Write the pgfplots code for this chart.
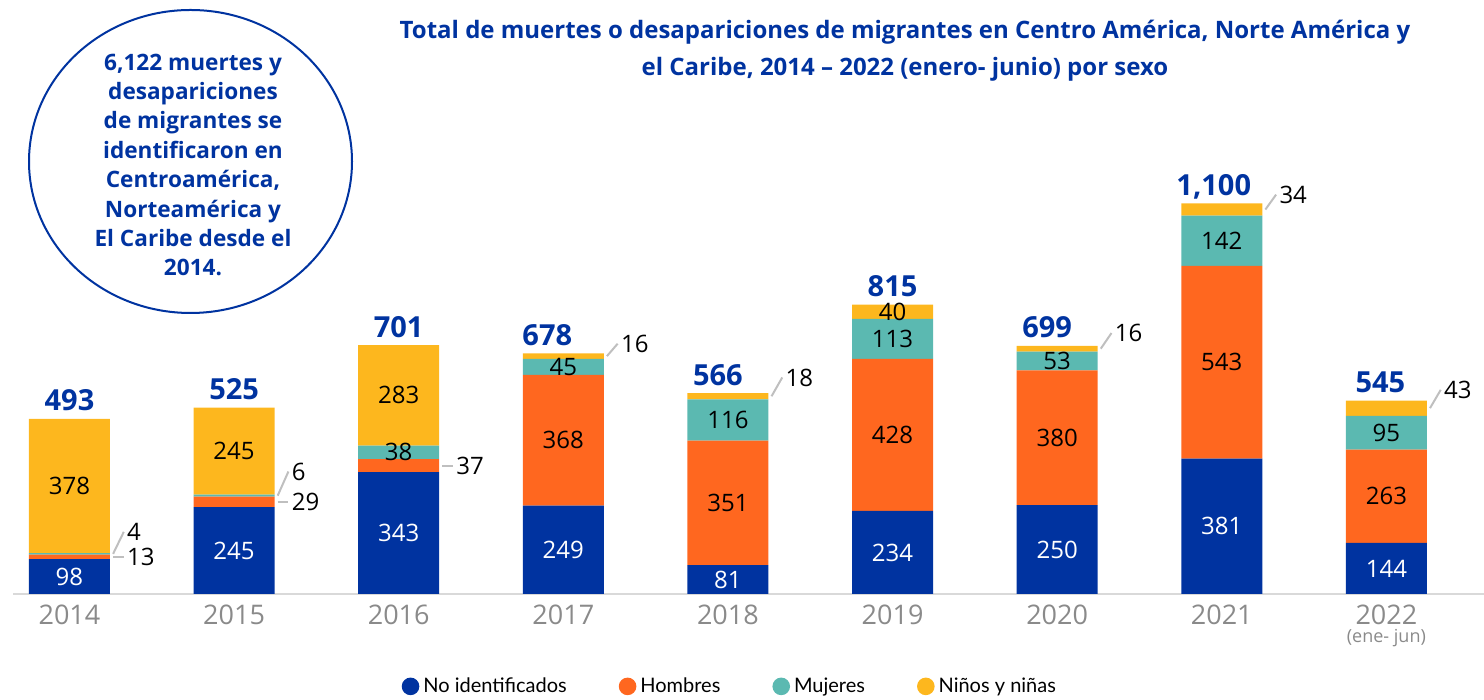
\documentclass[border=0pt]{standalone}
\usepackage{fontspec}
\setmainfont{Lato}
\newfontfamily\numfont{Open Sans}
\usepackage{pgfplots}
\pgfplotsset{compat=1.18}
\definecolor{cblue}{HTML}{0033A0}
\definecolor{corange}{HTML}{FF671F}
\definecolor{cteal}{HTML}{5BB9B1}
\definecolor{cyellow}{HTML}{FDB71E}
\definecolor{cgray}{HTML}{8A8A8A}
\definecolor{lgray}{HTML}{BFBFBF}
\definecolor{axgray}{HTML}{D9D9D9}
\newcommand{\inl}[4]{\node[font=\numfont\fontsize{12}{13}\selectfont, text=#4, inner sep=0pt] at (axis cs:#1,#2) {#3};}
\newcommand{\outl}[4]{\draw[lgray, line width=1pt] (axis cs:#1+0.265,#2) -- (axis cs:#1+0.33,#3);
  \node[font=\numfont\fontsize{12}{13}\selectfont, anchor=west, inner sep=1.5pt] at (axis cs:#1+0.33,#3) {#4};}
\newcommand{\tot}[4]{\node[font=\numfont\bfseries\fontsize{14.5}{16}\selectfont, text=cblue, anchor=base, yshift=4pt, xshift=#4] at (axis cs:#1,#2) {#3};}
\pgfplotsset{common/.style={
 at={(6.5pt,53pt)}, anchor=south west,
 width=735.5pt, height=266.25pt, scale only axis,
 xmin=-0.343, xmax=8.593, ymin=0, ymax=1500, clip=false}}
\begin{document}
\begin{tikzpicture}
\useasboundingbox (0,0) rectangle (742pt,350pt);
\begin{axis}[
 common,
 ybar stacked, bar width=40.5pt,
 axis x line=bottom, axis y line=none,
 x axis line style={-, draw=axgray, line width=1pt},
 xtick={0,1,2,3,4,5,6,7,8},
 xticklabels={2014,2015,2016,2017,2018,2019,2020,2021,{2022\\[-5pt]{\fontsize{9}{10}\selectfont (ene- jun)}}},
 major tick length=0pt,
 xtick style={draw=none},
 xticklabel style={font=\numfont\fontsize{13.5}{14}\selectfont, text=cgray, align=center, yshift=-2pt},
 legend columns=4,
 legend style={at={(rel axis cs:0.488,-0.1735)}, anchor=center, draw=none, fill=none, font=\fontsize{10}{11}\selectfont, /tikz/every even column/.append style={column sep=24pt}},
 legend image code/.code={\fill[#1] (-0.2em,0pt) circle (4.4pt);},
]
\addplot+[fill=cblue, draw=none] coordinates {(0,98) (1,245) (2,343) (3,249) (4,81) (5,234) (6,250) (7,381) (8,144)};
\addplot+[fill=corange, draw=none] coordinates {(0,13) (1,29) (2,37) (3,368) (4,351) (5,428) (6,380) (7,543) (8,263)};
\addplot+[fill=cteal, draw=none] coordinates {(0,4) (1,6) (2,38) (3,45) (4,116) (5,113) (6,53) (7,142) (8,95)};
\addplot+[fill=cyellow, draw=none] coordinates {(0,378) (1,245) (2,283) (3,16) (4,18) (5,40) (6,16) (7,34) (8,43)};
\legend{No identificados, Hombres, Mujeres, Niños y niñas}
\end{axis}
\begin{axis}[common, hide axis]
% inside labels
\inl{0}{49}{98}{white}
\inl{0}{304}{378}{black}
\inl{1}{122.5}{245}{white}
\inl{1}{402.5}{245}{black}
\inl{2}{171.5}{343}{white}
\inl{2}{399}{38}{black}
\inl{2}{559.5}{283}{black}
\inl{3}{124.5}{249}{white}
\inl{3}{433}{368}{black}
\inl{3}{639.5}{45}{black}
\inl{4}{40.5}{81}{white}
\inl{4}{256.5}{351}{black}
\inl{4}{490}{116}{black}
\inl{5}{117}{234}{white}
\inl{5}{448}{428}{black}
\inl{5}{718.5}{113}{black}
\inl{5}{795}{40}{black}
\inl{6}{125}{250}{white}
\inl{6}{440}{380}{black}
\inl{6}{656.5}{53}{black}
\inl{7}{190.5}{381}{white}
\inl{7}{652.5}{543}{black}
\inl{7}{995}{142}{black}
\inl{8}{72}{144}{white}
\inl{8}{275.5}{263}{black}
\inl{8}{454.5}{95}{black}
% outside labels
\outl{0}{104.5}{104.5}{13}
\outl{0}{113}{175}{4}
\outl{1}{259.5}{259.5}{29}
\outl{1}{277}{345}{6}
\outl{2}{361.5}{361.5}{37}
\outl{3}{670}{705}{16}
\outl{4}{557}{610}{18}
\outl{6}{691}{735}{16}
\outl{7}{1083}{1125}{34}
\outl{8}{523.5}{575}{43}
% totals
\tot{0}{493}{493}{0pt}
\tot{1}{525}{525}{0pt}
\tot{2}{701}{701}{0pt}
\tot{3}{678}{678}{-8pt}
\tot{4}{566}{566}{-5pt}
\tot{5}{815}{815}{0pt}
\tot{6}{699}{699}{-5pt}
\tot{7}{1100}{1,100}{-4pt}
\tot{8}{545}{545}{-3pt}
\end{axis}
% title
\node[align=center, font=\numfont\bfseries\fontsize{12}{18.5}\selectfont, text=cblue] at (452.5pt,324.5pt)
  {Total de muertes o desapariciones de migrantes en Centro América, Norte América y\\el Caribe, 2014 – 2022 (enero- junio) por sexo};
% circle
\draw[cblue, line width=1pt] (95.25pt,269.25pt) ellipse (80.75pt and 75.75pt);
\node[align=center, font=\numfont\bfseries\fontsize{11.3}{14.7}\selectfont, text=cblue] at (96.5pt,267.5pt)
  {6,122 muertes y\\desapariciones\\de migrantes se\\identificaron en\\Centroamérica,\\Norteamérica y\\El Caribe desde el\\2014.};
\end{tikzpicture}
\end{document}
